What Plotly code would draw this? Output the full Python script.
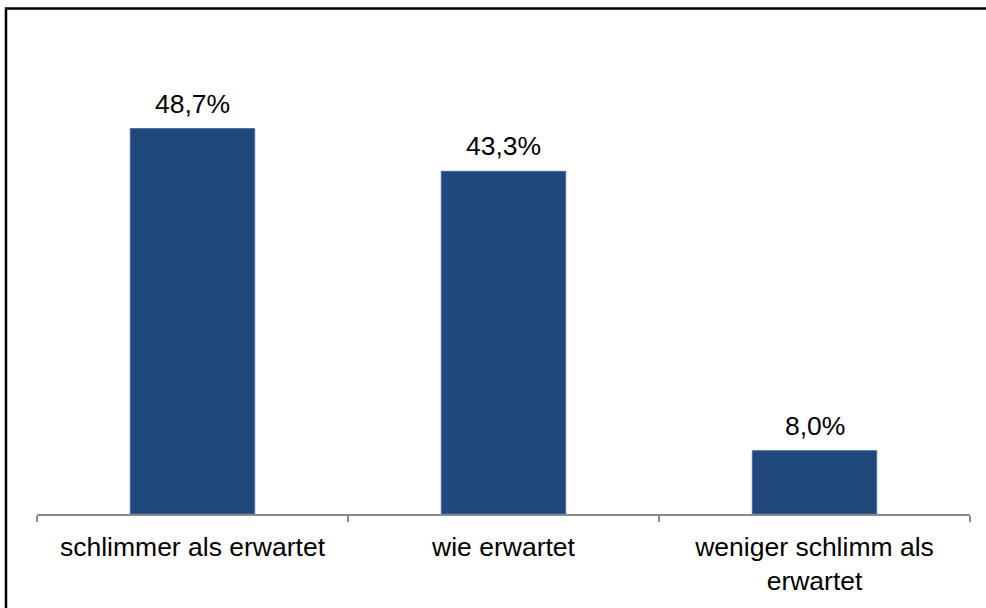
import plotly.graph_objects as go

categories = ["schlimmer als erwartet", "wie erwartet", "weniger schlimm als<br>erwartet"]
values = [48.7, 43.3, 8.0]
value_labels = ["48,7%", "43,3%", "8,0%"]

FONT = "Liberation Sans, Arial, sans-serif"

fig = go.Figure()
fig.add_trace(go.Bar(
    x=categories, y=values,
    marker=dict(color="#1F497D", line=dict(color="#4A6A96", width=1)),
    width=0.4,
    hoverinfo="skip",
))

for c, v, t in zip(categories, values, value_labels):
    fig.add_annotation(x=c, y=v, text=t, showarrow=False, yanchor="bottom",
                       yshift=8, font=dict(family=FONT, size=26.5, color="black"))

L, R, T, B = 37, 16, 38, 87
W, H = 986, 608
pw = W - L - R
ph = H - T - B

def px2x(px):
    return (px - L) / pw

def py2y(py):
    return (H - B - py) / ph

fig.add_shape(type="rect", xref="paper", yref="paper",
              x0=px2x(6), x1=px2x(995), y0=py2y(620), y1=py2y(8),
              line=dict(color="black", width=2.5), fillcolor="rgba(0,0,0,0)", layer="above")

fig.update_layout(
    width=W, height=H,
    margin=dict(l=L, r=R, t=T, b=B),
    paper_bgcolor="white", plot_bgcolor="white",
    showlegend=False,
    font=dict(family=FONT, size=26.5, color="black"),
    xaxis=dict(type="category", tickson="boundaries", ticks="outside", ticklen=6,
               tickcolor="#8A8A8A", tickwidth=2, showline=True, linecolor="#8A8A8A",
               linewidth=2, showgrid=False, ticklabelstandoff=8,
               tickfont=dict(family=FONT, size=26.5, color="black")),
    yaxis=dict(range=[0, 60.15], visible=False, showgrid=False, zeroline=False),
)

fig.write_html("out.html", config={"displayModeBar": False},
               post_script="document.body.style.margin='0';document.body.style.overflow='hidden';")
